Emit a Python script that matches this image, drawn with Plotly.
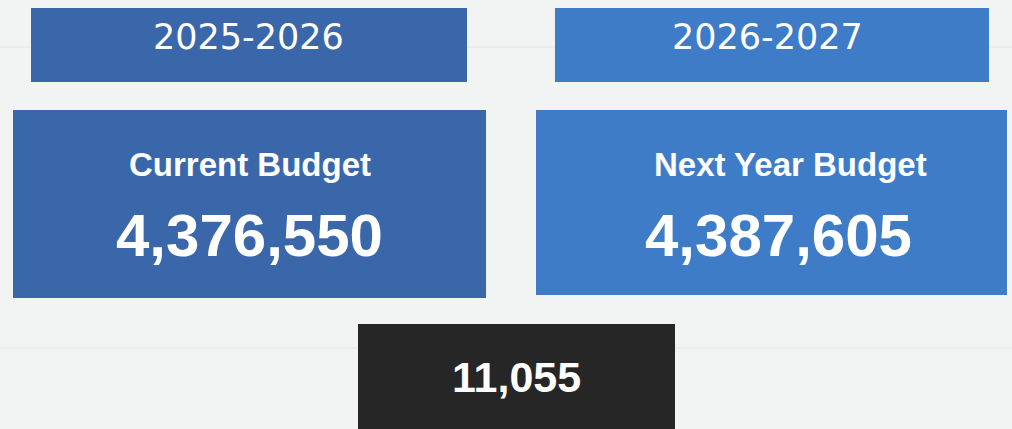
import plotly.graph_objects as go

# Data
years = ["2025-2026", "2026-2027"]
labels = ["Current Budget", "Next Year Budget"]
values = [4376550, 4387605]
difference = [11055]

W, H = 1012, 429
BG = "#f2f3f3"
LEFT_BLUE = "#3a67aa"
RIGHT_BLUE = "#3e7cc8"
DARK = "#262626"

fig = go.Figure()
fig.add_trace(go.Scatter(x=[0, W], y=[0, H], mode="markers",
                         marker=dict(opacity=0), hoverinfo="skip", showlegend=False))

# Layout geometry (pixels)
header_boxes = [(31, 8, 467, 82), (555, 8, 989, 82)]
main_boxes = [(13, 110, 486, 298), (536, 110, 1007, 295)]
diff_box = (358, 324, 675, 440)
colors = [LEFT_BLUE, RIGHT_BLUE]
header_cx = [248, 767]
label_cx = [250, 790]
value_cx = [249, 778]

shapes = []
# faint scan lines
for yy in [47, 348]:
    shapes.append(dict(type="line", x0=0, x1=W, y0=yy, y1=yy, xref="x", yref="y",
                       line=dict(color="#e3e5e6", width=1), layer="below"))
for i in range(2):
    x0, y0, x1, y1 = header_boxes[i]
    shapes.append(dict(type="rect", x0=x0, y0=y0, x1=x1, y1=y1, xref="x", yref="y",
                       fillcolor=colors[i], line=dict(width=0)))
    x0, y0, x1, y1 = main_boxes[i]
    shapes.append(dict(type="rect", x0=x0, y0=y0, x1=x1, y1=y1, xref="x", yref="y",
                       fillcolor=colors[i], line=dict(width=0)))
x0, y0, x1, y1 = diff_box
shapes.append(dict(type="rect", x0=x0, y0=y0, x1=x1, y1=y1, xref="x", yref="y",
                   fillcolor=DARK, line=dict(width=0)))

annotations = []
for i in range(2):
    annotations.append(dict(x=header_cx[i], y=37, xref="x", yref="y", text=years[i],
                            showarrow=False, xanchor="center", yanchor="middle",
                            font=dict(family="DejaVu Sans", size=35, weight=500, color="white")))
    annotations.append(dict(x=label_cx[i], y=164, xref="x", yref="y", text=f"<b>{labels[i]}</b>",
                            showarrow=False, xanchor="center", yanchor="middle",
                            font=dict(family="Liberation Sans, Arial", size=33, color="white")))
    annotations.append(dict(x=value_cx[i], y=235, xref="x", yref="y", text=f"<b>{values[i]:,}</b>",
                            showarrow=False, xanchor="center", yanchor="middle",
                            font=dict(family="Liberation Sans, Arial", size=60, color="white")))
annotations.append(dict(x=516, y=377, xref="x", yref="y", text=f"<b>{difference[0]:,}</b>",
                        showarrow=False, xanchor="center", yanchor="middle",
                        font=dict(family="Liberation Sans, Arial", size=43, color="white")))

fig.update_layout(
    width=W, height=H,
    margin=dict(l=0, r=0, t=0, b=0),
    paper_bgcolor=BG, plot_bgcolor=BG,
    xaxis=dict(range=[0, W], visible=False, fixedrange=True),
    yaxis=dict(range=[H, 0], visible=False, fixedrange=True),
    shapes=shapes, annotations=annotations, showlegend=False,
)
fig.write_html("out.html", config={"displayModeBar": False},
               post_script="document.body.style.margin='0px';document.body.style.background='%s';" % BG)
